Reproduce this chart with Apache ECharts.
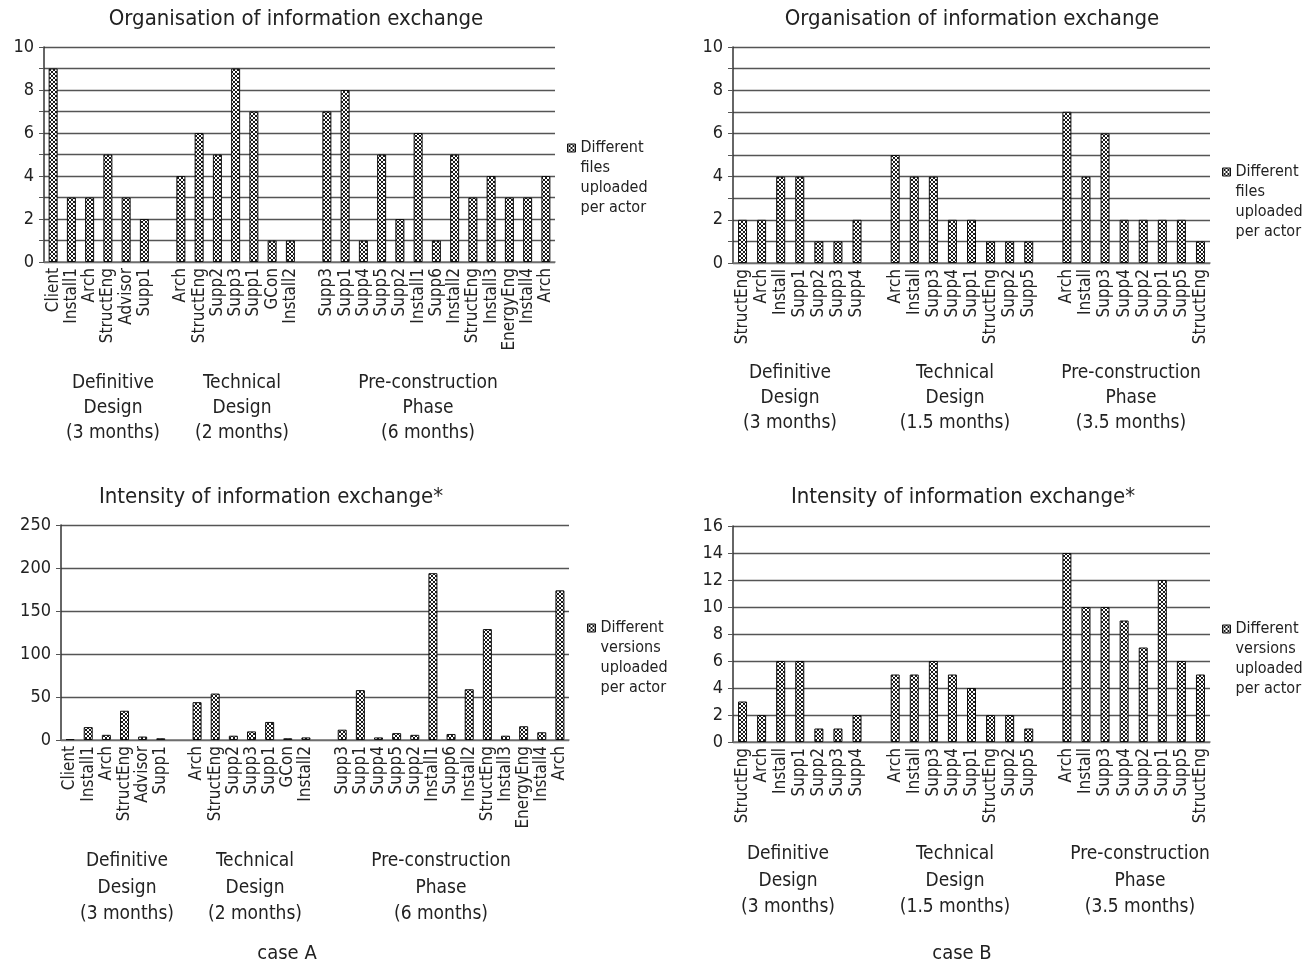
<!DOCTYPE html>
<html>
<head>
<meta charset="utf-8">
<script src="https://cdn.jsdelivr.net/npm/echarts@6/dist/echarts.min.js"></script>
<style>
html,body{margin:0;padding:0;background:#fff;}
#c{width:1314px;height:965px;}
</style>
</head>
<body>
<div id="c"></div>
<script>
// ---- Data ----
// '' marks the empty slot between project phases
const catsA = ['Client','Install1','Arch','StructEng','Advisor','Supp1','',
  'Arch','StructEng','Supp2','Supp3','Supp1','GCon','Install2','',
  'Supp3','Supp1','Supp4','Supp5','Supp2','Install1','Supp6','Install2','StructEng','Install3','EnergyEng','Install4','Arch'];
const filesA = [9,3,3,5,3,2,null,
  4,6,5,9,7,1,1,null,
  7,8,1,5,2,6,1,5,3,4,3,3,4];
const versionsA = [1,15,6,34,4,2,null,
  44,54,5,10,21,2,3,null,
  12,58,3,8,6,194,7,59,129,5,16,9,174];

const catsB = ['StructEng','Arch','Install','Supp1','Supp2','Supp3','Supp4','',
  'Arch','Install','Supp3','Supp4','Supp1','StructEng','Supp2','Supp5','',
  'Arch','Install','Supp3','Supp4','Supp2','Supp1','Supp5','StructEng'];
const filesB = [2,2,4,4,1,1,2,null,
  5,4,4,2,2,1,1,1,null,
  7,4,6,2,2,2,2,1];
const versionsB = [3,2,6,6,1,1,2,null,
  5,5,6,5,4,2,2,1,null,
  14,10,10,9,7,12,6,5];

const titleTop = 'Organisation of information exchange';
const titleBottom = 'Intensity of information exchange*';
const seriesFiles = 'Different files uploaded per actor';
const seriesVersions = 'Different versions uploaded per actor';
const phasesA = ['Definitive\nDesign\n(3 months)','Technical\nDesign\n(2 months)','Pre-construction\nPhase\n(6 months)'];
const phasesB = ['Definitive\nDesign\n(3 months)','Technical\nDesign\n(1.5 months)','Pre-construction\nPhase\n(3.5 months)'];
const caseLabels = ['case A','case B'];

// ---- Style ----
const FONT = "'DejaVu Sans Condensed','DejaVu Sans',sans-serif";
const TXT = '#222';

function makePattern(){
  const c = document.createElement('canvas');
  c.width = 4; c.height = 4;
  const ctx = c.getContext('2d');
  ctx.fillStyle = '#fff'; ctx.fillRect(0,0,4,4);
  ctx.fillStyle = '#1a1a1a';
  for (let i=0;i<4;i++){ ctx.fillRect(i,i,1,1); ctx.fillRect(3-i,i,1,1); }
  return c;
}
const pattern = {image: makePattern(), repeat: 'repeat'};

const grids = [
  {left:44, top:47, width:511, height:215},
  {left:733, top:47, width:477, height:216},
  {left:61, top:525, width:508, height:215},
  {left:733, top:526, width:477, height:216}
];

function xAxis(i, cats){
  return {
    type:'category', gridIndex:i, data:cats,
    axisLine:{show:true, lineStyle:{color:'#777', width:1.5}},
    axisTick:{show:false},
    axisLabel:{interval:0, rotate:90, fontSize:17, color:TXT, fontFamily:FONT, margin:6}
  };
}
function yAxis(i, max, interval, labelStep){
  return {
    type:'value', gridIndex:i, min:0, max:max, interval:interval,
    axisLine:{show:true, lineStyle:{color:'#333', width:1.5}},
    axisTick:{show:true, length:5, lineStyle:{color:'#555'}},
    splitLine:{show:true, lineStyle:{color:'#555', width:1.3}},
    axisLabel:{fontSize:18, color:TXT, fontFamily:FONT, margin:10,
      formatter: v => (v % labelStep === 0 ? String(v) : '')}
  };
}
function bar(i, name, data){
  return {
    type:'bar', name:name, xAxisIndex:i, yAxisIndex:i, data:data,
    barWidth:9,
    itemStyle:{color:pattern, borderColor:'#111', borderWidth:1},
    emphasis:{disabled:true}
  };
}
// three leading blank lines keep the legend icon level with the first text line
function legend(name, left, iconY){
  return {
    data:[name], left:left, top:iconY-75, orient:'vertical',
    icon:'rect', itemWidth:8, itemHeight:8, selectedMode:false,
    itemStyle:{borderColor:'#111', borderWidth:1},
    formatter: n => '\n\n\n' + n.replace('Different ','Different\n').replace(' uploaded','\nuploaded').replace(' per actor','\nper actor'),
    textStyle:{fontSize:16, lineHeight:20, color:TXT, fontFamily:FONT}
  };
}
function textEl(text, x, y, size, lh){
  return {type:'text', x:x, y:y, style:{text:text, x:0, y:0, align:'center', verticalAlign:'top',
    fill:TXT, font: size+'px '+FONT, lineHeight:lh}};
}

const graphics = [
  textEl(titleTop, 296, 6, 22, 26),
  textEl(titleTop, 972, 6, 22, 26),
  textEl(titleBottom, 271, 484, 22, 26),
  textEl(titleBottom, 963, 484, 22, 26),
  textEl(phasesA[0], 113, 371, 19, 25),
  textEl(phasesA[1], 242, 371, 19, 25),
  textEl(phasesA[2], 428, 371, 19, 25),
  textEl(phasesB[0], 790, 361, 19, 25),
  textEl(phasesB[1], 955, 361, 19, 25),
  textEl(phasesB[2], 1131, 361, 19, 25),
  textEl(phasesA[0], 127, 848, 19, 26.5),
  textEl(phasesA[1], 255, 848, 19, 26.5),
  textEl(phasesA[2], 441, 848, 19, 26.5),
  textEl(phasesB[0], 788, 841, 19, 26.5),
  textEl(phasesB[1], 955, 841, 19, 26.5),
  textEl(phasesB[2], 1140, 841, 19, 26.5),
  textEl(caseLabels[0], 287, 942, 20, 24),
  textEl(caseLabels[1], 962, 942, 20, 24)
];

const chart = echarts.init(document.getElementById('c'), null, {renderer:'canvas'});
chart.setOption({
  animation:false,
  backgroundColor:'#fff',
  grid: grids,
  xAxis: [xAxis(0,catsA), xAxis(1,catsB), xAxis(2,catsA), xAxis(3,catsB)],
  yAxis: [yAxis(0,10,1,2), yAxis(1,10,1,2), yAxis(2,250,50,50), yAxis(3,16,2,2)],
  legend: [
    legend(seriesFiles, 562, 148),
    legend(seriesFiles, 1217, 172),
    legend(seriesVersions, 582, 628),
    legend(seriesVersions, 1217, 629)
  ],
  series: [
    bar(0, seriesFiles, filesA),
    bar(1, seriesFiles, filesB),
    bar(2, seriesVersions, versionsA),
    bar(3, seriesVersions, versionsB)
  ],
  graphic: graphics
});
</script>
</body>
</html>
